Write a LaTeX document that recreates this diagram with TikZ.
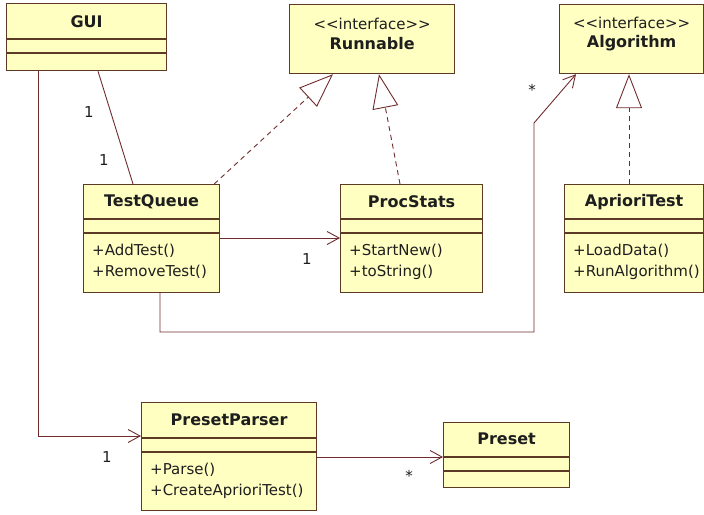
\documentclass[tikz,border=0pt]{standalone}
\usepackage{fontspec}
\setmainfont{DejaVu Sans}
\usetikzlibrary{calc}
\usetikzlibrary{arrows.meta}

\definecolor{boxfill}{RGB}{255,255,194}
\definecolor{boxline}{RGB}{92,58,38}
\definecolor{wire}{RGB}{112,44,44}
\definecolor{ink}{RGB}{30,30,30}

\begin{document}
\begin{tikzpicture}[x=1pt, y=-1pt,
  every node/.style={font=\fontsize{15}{21}\selectfont, text=ink, inner sep=0pt},
  cls/.style={draw=boxline, fill=boxfill, line width=1.2pt, anchor=north west},
  cname/.style={font=\fontsize{16}{21}\selectfont\bfseries},
  meth/.style={align=left, anchor=west},
  divline/.style={draw=boxline, line width=1.2pt},
  assoc/.style={draw=wire, line width=0.9pt},
  nav/.style={assoc, -{Straight Barb[length=12pt, width=13pt]}},
  real/.style={draw=wire, line width=0.9pt, dash pattern=on 5pt off 4pt, -{Triangle[open, length=34pt, width=26pt]}}]
\useasboundingbox (0,0) rectangle (704,514);

\node[cls, minimum width=160pt, minimum height=67pt] (gui) at (6,3) {};
\node[cname] at ($(gui.north)+(0,19)$) {GUI};
\draw[divline] ($(gui.north west)+(0,36)$) -- ($(gui.north east)+(0,36)$);
\draw[divline] ($(gui.north west)+(0,50)$) -- ($(gui.north east)+(0,50)$);

\node[cls, minimum width=165pt, minimum height=69pt] (run) at (289,4) {};
\node at ($(run.north)+(0,20)$) {<\kern0pt<interface>\kern0pt>};
\node[cname] at ($(run.north)+(0,40)$) {Runnable};

\node[cls, minimum width=144pt, minimum height=69pt] (alg) at (559,4) {};
\node at ($(alg.north)+(0,19)$) {<\kern0pt<interface>\kern0pt>};
\node[cname] at ($(alg.north)+(0,39)$) {Algorithm};

\node[cls, minimum width=136pt, minimum height=108pt] (tq) at (83,184) {};
\node[cname] at ($(tq.north)+(0,18)$) {TestQueue};
\draw[divline] ($(tq.north west)+(0,35)$) -- ($(tq.north east)+(0,35)$);
\draw[divline] ($(tq.north west)+(0,49)$) -- ($(tq.north east)+(0,49)$);
\node[meth] at ($(tq.north west)+(9,77.5)$) {+AddTest()\\+RemoveTest()};

\node[cls, minimum width=142pt, minimum height=108pt] (ps) at (340,184) {};
\node[cname] at ($(ps.north)+(0,18)$) {ProcStats};
\draw[divline] ($(ps.north west)+(0,35)$) -- ($(ps.north east)+(0,35)$);
\draw[divline] ($(ps.north west)+(0,49)$) -- ($(ps.north east)+(0,49)$);
\node[meth] at ($(ps.north west)+(9,77.5)$) {+StartNew()\\+toString()};

\node[cls, minimum width=139pt, minimum height=108pt] (apr) at (564,184) {};
\node[cname] at ($(apr.north)+(0,18)$) {AprioriTest};
\draw[divline] ($(apr.north west)+(0,35)$) -- ($(apr.north east)+(0,35)$);
\draw[divline] ($(apr.north west)+(0,49)$) -- ($(apr.north east)+(0,49)$);
\node[meth] at ($(apr.north west)+(9,78)$) {+LoadData()\\+RunAlgorithm()};

\node[cls, minimum width=175pt, minimum height=108pt] (pp) at (141,402) {};
\node[cname] at ($(pp.north)+(0,18)$) {PresetParser};
\draw[divline] ($(pp.north west)+(0,36)$) -- ($(pp.north east)+(0,36)$);
\draw[divline] ($(pp.north west)+(0,50)$) -- ($(pp.north east)+(0,50)$);
\node[meth] at ($(pp.north west)+(9,79)$) {+Parse()\\+CreateAprioriTest()};

\node[cls, minimum width=126pt, minimum height=65pt] (pre) at (443,422) {};
\node[cname] at ($(pre.north)+(0,17)$) {Preset};
\draw[divline] ($(pre.north west)+(0,35)$) -- ($(pre.north east)+(0,35)$);
\draw[divline] ($(pre.north west)+(0,49)$) -- ($(pre.north east)+(0,49)$);

\draw[assoc] ($(gui.south west)+(92,0)$) -- ($(tq.north west)+(50,0)$);
\node at (89,112) {1};
\node at (104,160) {1};

\draw[nav] ($(gui.south west)+(32,0)$) |- ($(pp.north west)+(0,34)$);
\node at (107,457) {1};

\draw[nav] ($(tq.north east)+(0,54)$) -- ($(ps.north west)+(0,54)$);
\node at (307,259) {1};

\draw[nav] ($(pp.north east)+(0,55)$) -- ($(pre.north west)+(0,35)$);
\node at (409,476) {*};

\coordinate (low) at (534,332);
\coordinate (bend) at (534,123);
\draw[nav] ($(tq.south west)+(77,0)$) |- (low) -- (bend) -- ($(alg.south west)+(17,0)$);
\node at (532,90) {*};

\draw[real] ($(tq.north east)+(-6,0)$) -- ($(run.south west)+(44,0)$);
\draw[real] ($(ps.north west)+(60,0)$) -- ($(run.south west)+(90,0)$);
\draw[real] ($(apr.north west)+(65,0)$) -- ($(alg.south west)+(70,0)$);
\end{tikzpicture}
\end{document}
